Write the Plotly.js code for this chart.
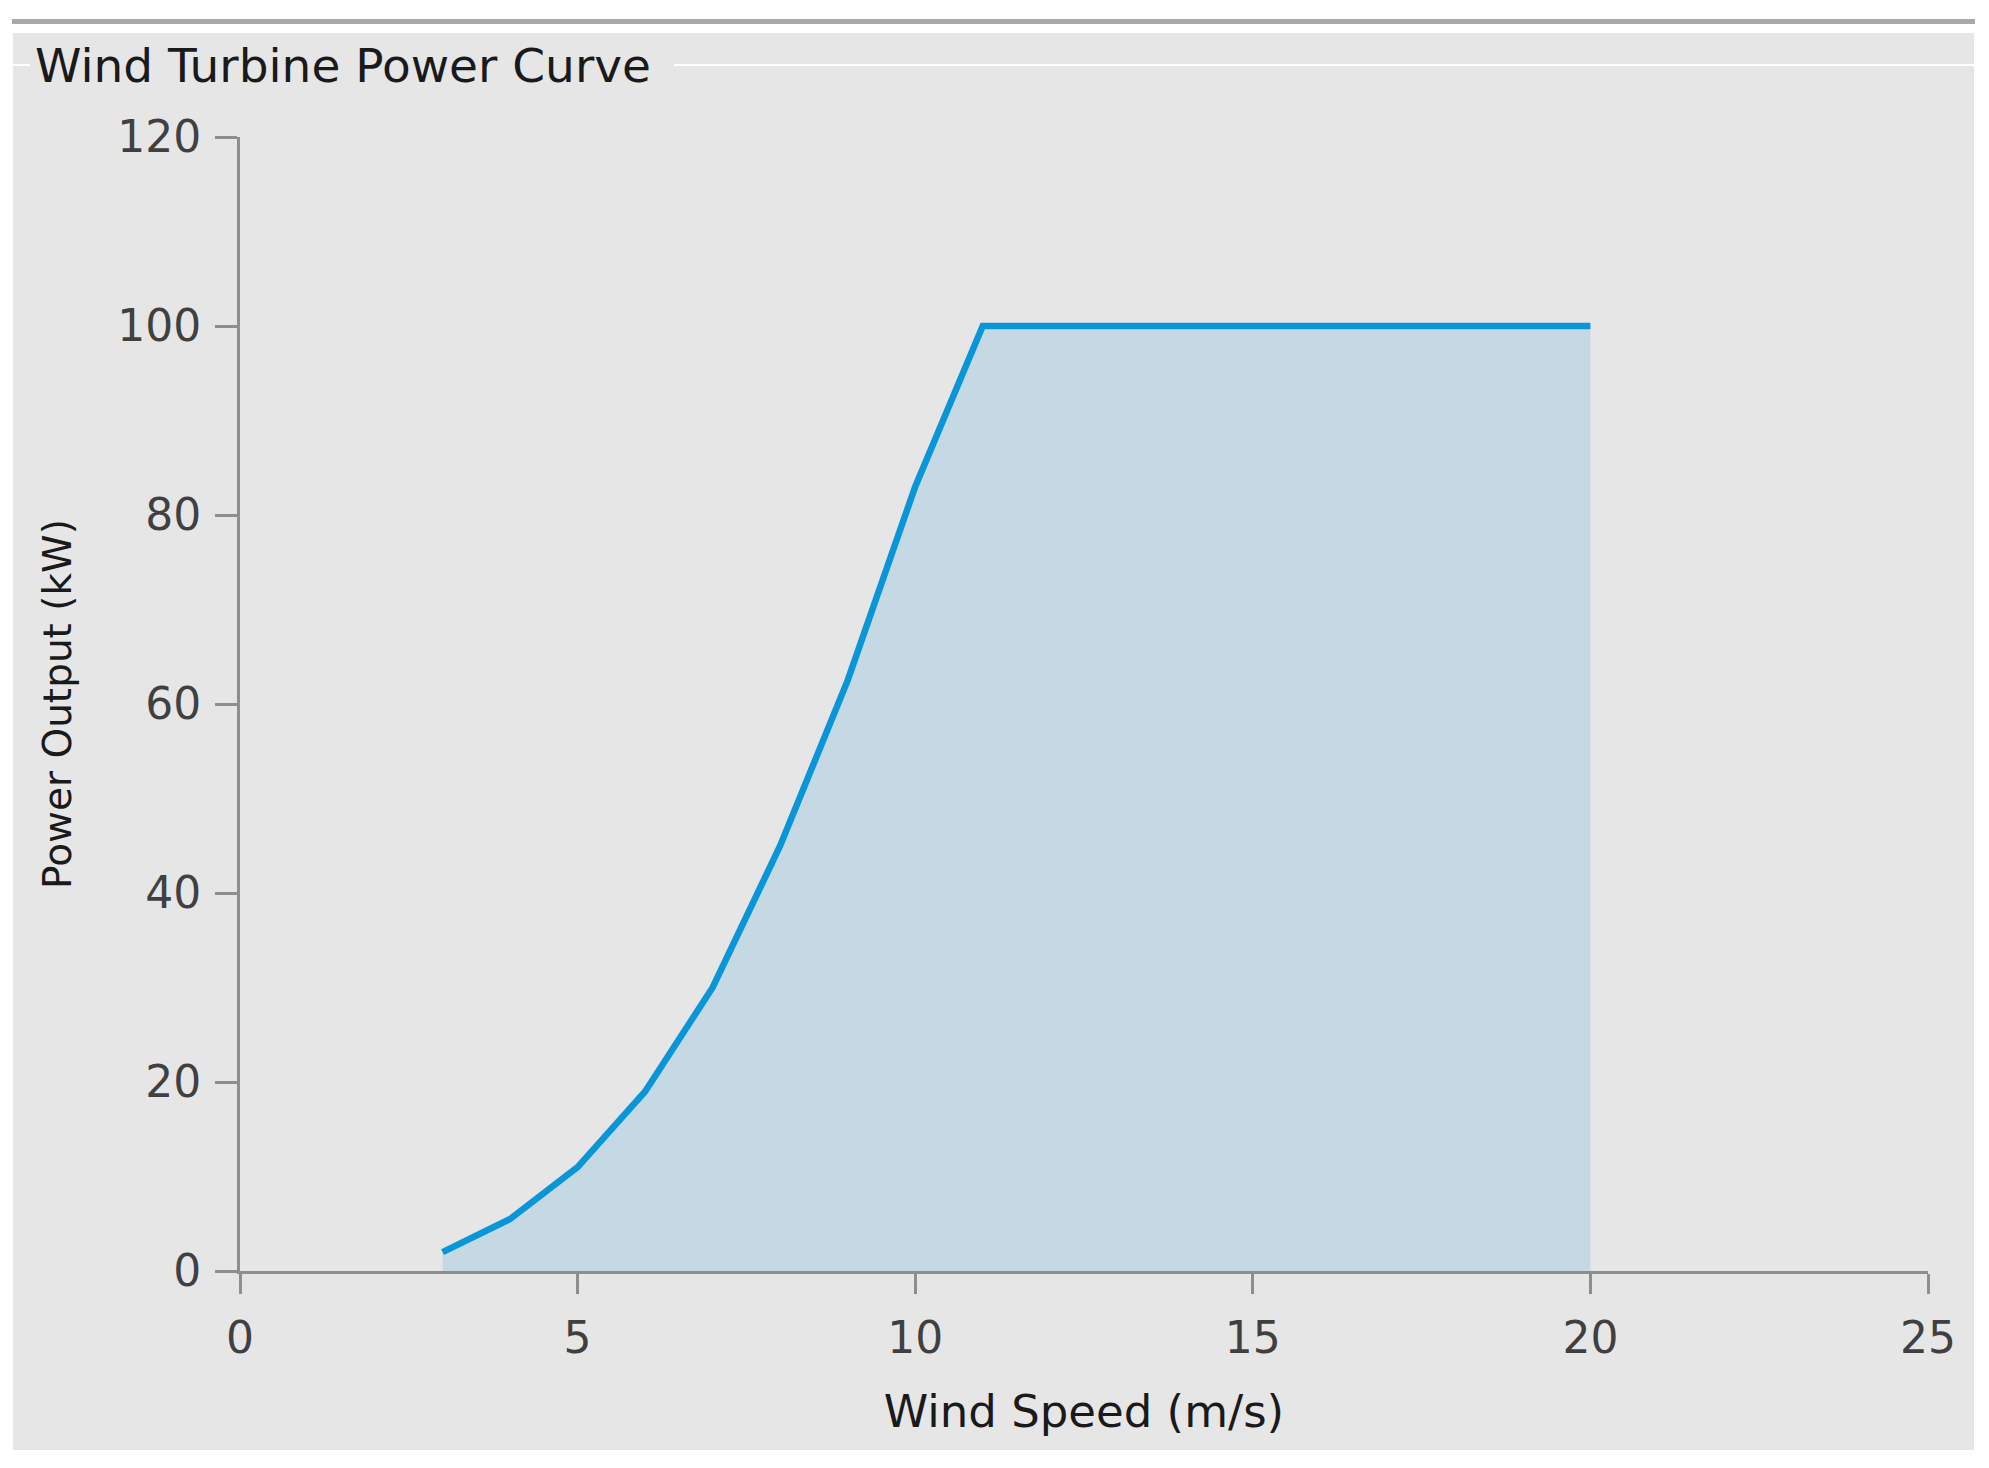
<!DOCTYPE html>
<html>
<head>
<meta charset="utf-8">
<script src="https://cdn.plot.ly/plotly-3.0.1.min.js"></script>
<style>
  body { margin: 0; background: #ffffff; width: 1989px; height: 1468px; position: relative; overflow: hidden; }
  #topline { position: absolute; left: 12px; top: 19px; width: 1963px; height: 5px; background: #a9a9a9; }
  #graph { position: absolute; left: 13px; top: 33px; width: 1961px; height: 1417px; }
  .groupline { position: absolute; height: 4px; border-top: 2px solid #ffffff; border-bottom: 2px solid #dfe6ec; }
</style>
</head>
<body>
<div id="topline"></div>
<div id="graph"></div>
<div class="groupline" style="left:13px; top:64px; width:17px;"></div>
<div class="groupline" style="left:674px; top:64px; width:1300px;"></div>
<script>
// power curve
const windSpeed = [3, 4, 5, 6, 7, 8, 9, 10, 11, 12, 13, 14, 15, 16, 17, 18, 19, 20];
const powerKW = [2, 5.5, 11, 19, 30, 45, 62.5, 83, 100, 100, 100, 100, 100, 100, 100, 100, 100, 100];

const xTicks = [0, 5, 10, 15, 20, 25];
const yTicks = [0, 20, 40, 60, 80, 100, 120];

const font = "'DejaVu Sans', 'Open Sans', sans-serif";
const axisGray = '#8e8e8e';

const trace = {
    x: windSpeed,
    y: powerKW,
    type: 'scatter',
    mode: 'lines',
    fill: 'tozeroy',
    fillcolor: '#c5d9e5',
    line: { color: '#0896d8', width: 6.5 },
    hoverinfo: 'x+y'
};

const layout = {
    width: 1961,
    height: 1417,
    paper_bgcolor: '#e6e6e6',
    plot_bgcolor: '#e6e6e6',
    margin: { l: 227, r: 46, t: 104, b: 179 },
    showlegend: false,
    font: { family: font, color: '#404040', size: 44 },
    title: {
        text: 'Wind Turbine Power Curve',
        font: { family: font, size: 47, color: '#1a1a1a' },
        xref: 'container', yref: 'container',
        x: 0.0112, xanchor: 'left',
        y: 0.977, yanchor: 'middle'
    },
    xaxis: {
        range: [0, 25],
        tickvals: xTicks,
        ticks: 'outside', ticklen: 20, tickwidth: 3, tickcolor: axisGray,
        ticklabelstandoff: 6,
        showline: true, linewidth: 3, linecolor: axisGray,
        showgrid: false, zeroline: false,
        tickfont: { size: 44, color: '#404040' },
        title: { text: 'Wind Speed (m/s)', font: { size: 45, color: '#1a1a1a' }, standoff: 34 }
    },
    yaxis: {
        range: [0, 120],
        tickvals: yTicks,
        ticks: 'outside', ticklen: 22, tickwidth: 3, tickcolor: axisGray,
        ticklabelstandoff: 5,
        showline: true, linewidth: 3, linecolor: axisGray,
        showgrid: false, zeroline: false,
        tickfont: { size: 44, color: '#404040' },
        title: { text: 'Power Output (kW)', font: { size: 39, color: '#1a1a1a' }, standoff: 34 }
    }
};

Plotly.newPlot('graph', [trace], layout, { displayModeBar: false, staticPlot: true });
</script>
</body>
</html>
